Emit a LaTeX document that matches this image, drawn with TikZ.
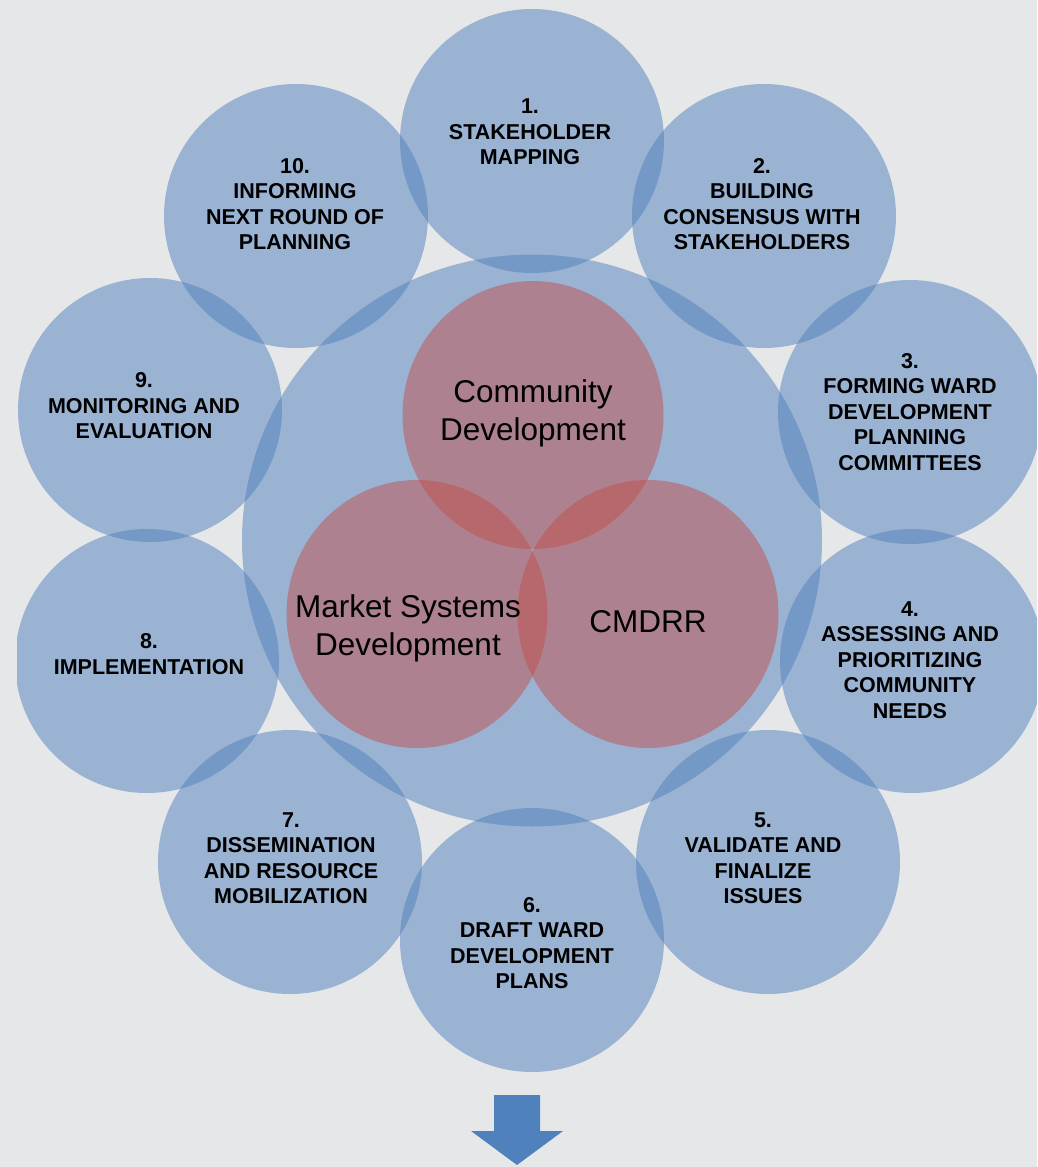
\documentclass[tikz,border=0pt]{standalone}
\usepackage{fontspec}
\usetikzlibrary{shapes.geometric}
\setmainfont{Liberation Sans}
\definecolor{bg}{HTML}{E6E7E9}
\definecolor{blu}{HTML}{4F81BD}
\definecolor{rd}{HTML}{C0504D}
\begin{document}
\begin{tikzpicture}[x=1pt,y=-1pt,
 ring/.style={circle, fill=blu, fill opacity=0.5, draw=none, minimum size=264pt, inner sep=0pt},
 venn/.style={ellipse, fill=rd, fill opacity=0.5, draw=none, minimum width=261pt, minimum height=268pt, inner sep=0pt},
 steplbl/.style={font=\fontsize{21.5}{25.5}\selectfont\bfseries, align=center, inner sep=0pt, text=black},
 vennlbl/.style={font=\fontsize{31.5}{38}\selectfont, align=center, inner sep=0pt, text=black}]
\fill[bg] (0,0) rectangle (1037,1167);
\useasboundingbox (0,0) rectangle (1037,1167);
\begin{scope}
\clip (17,0) rectangle (1037,1167);
\node[ellipse, fill=blu, fill opacity=0.5, draw=none, inner sep=0pt, minimum width=580pt, minimum height=572pt] (core) at (532,540.5) {};
\node[ring] (c1) at (532,141) {};
\node[ring] (c2) at (764,216) {};
\node[ring] (c3) at (910,412) {};
\node[ring] (c4) at (912,661) {};
\node[ring] (c5) at (768,862) {};
\node[ring] (c6) at (532,940) {};
\node[ring] (c7) at (290,862) {};
\node[ring] (c8) at (147,661) {};
\node[ring] (c9) at (150,410) {};
\node[ring] (c10) at (296,216) {};
\node[venn] (cd) at (533,415) {};
\node[venn] (msd) at (417,614) {};
\node[venn] (cm) at (648,614) {};
\end{scope}
\node[steplbl] (t1) at (530,132) {1.\\STAKEHOLDER\\MAPPING};
\node[steplbl] (t2) at (762,204) {2.\\BUILDING\\CONSENSUS WITH\\STAKEHOLDERS};
\node[steplbl] (t3) at (910,412) {3.\\FORMING WARD\\DEVELOPMENT\\PLANNING\\COMMITTEES};
\node[steplbl] (t4) at (910,660) {4.\\ASSESSING AND\\PRIORITIZING\\COMMUNITY\\NEEDS};
\node[steplbl] (t5) at (763,858) {5.\\VALIDATE AND\\FINALIZE\\ISSUES};
\node[steplbl] (t6) at (532,943) {6.\\DRAFT WARD\\DEVELOPMENT\\PLANS};
\node[steplbl] (t7) at (291,858) {7.\\DISSEMINATION\\AND RESOURCE\\MOBILIZATION};
\node[steplbl] (t8) at (149,654) {8.\\IMPLEMENTATION};
\node[steplbl] (t9) at (144,406) {9.\\MONITORING AND\\EVALUATION};
\node[steplbl] (t10) at (295,204) {10.\\INFORMING\\NEXT ROUND OF\\PLANNING};
\node[vennlbl] (tcd) at (533,413.5) {Community\\Development};
\node[vennlbl] (tmsd) at (408,628.5) {Market Systems\\Development};
\node[vennlbl] (tcm) at (648,622) {CMDRR};
\fill[blu] (494,1095) -- (540,1095) -- (540,1131) -- (563,1131) -- (517,1165) -- (471,1131) -- (494,1131) -- cycle;
\end{tikzpicture}
\end{document}
